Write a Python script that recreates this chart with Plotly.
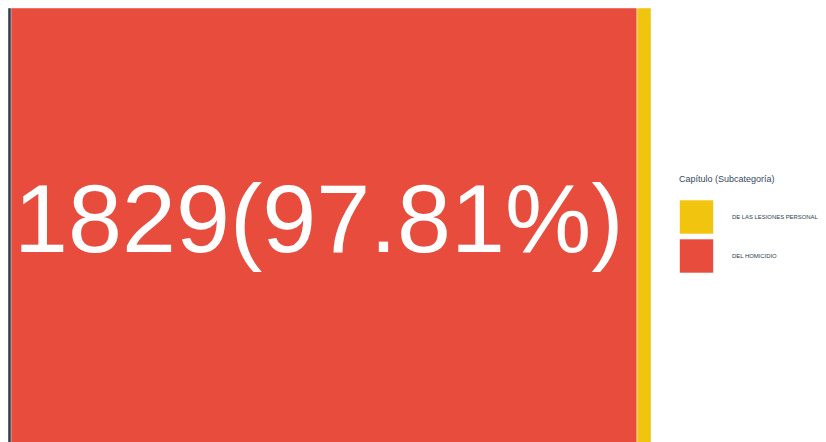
import plotly.graph_objects as go

# Data
root_label = "Total"
categories = ["DEL HOMICIDIO", "DE LAS LESIONES PERSONALES"]
values = [1829, 41]
colors = ["#e74c3c", "#f1c40f"]
legend_order = ["DE LAS LESIONES PERSONALES", "DEL HOMICIDIO"]
legend_title = "Capítulo (Subcategoría)"

total = sum(values)
labels = [root_label] + categories
parents = [""] + [root_label] * len(categories)
vals = [total] + values
texts = [""] + [
    f"{v}({v / total * 100:.2f}%)"
    "<sub><span style='font-size:125px'>\u200a</span></sub>"
    if v / total > 0.1 else ""
    for v in values
]

W, H = 826, 442

fig = go.Figure()
fig.add_trace(
    go.Treemap(
        labels=labels,
        parents=parents,
        values=vals,
        branchvalues="total",
        sort=True,
        text=texts,
        texttemplate="%{text}",
        textposition="middle center",
        textfont=dict(family="Liberation Sans, Arial, sans-serif", size=98, color="white"),
        marker=dict(
            colors=["#2c3e50"] + colors,
            line=dict(width=1, color="rgba(255,255,255,0.45)"),
            pad=dict(t=0, l=3, r=0, b=0),
        ),
        tiling=dict(packing="dice", pad=0),
        pathbar=dict(visible=False),
        hoverinfo="label+value+percent root",
        domain=dict(x=[0, 643 / W], y=[0, 1]),
    )
)

# Legend drawn as squares on auxiliary axes
color_map = dict(zip(categories, colors))
fig.add_trace(
    go.Scatter(
        x=[0] * len(legend_order),
        y=legend_order,
        mode="markers",
        marker=dict(
            symbol="square",
            size=34,
            color=[color_map[c] for c in legend_order],
            line=dict(width=1, color="rgba(255,255,255,0.6)"),
        ),
        xaxis="x2",
        yaxis="y2",
        hoverinfo="skip",
        showlegend=False,
    )
)

for c in legend_order:
    fig.add_annotation(
        x=722 / W,
        xref="paper",
        y=c,
        yref="y2",
        text=c,
        showarrow=False,
        xanchor="left",
        yanchor="middle",
        font=dict(family="Liberation Sans, Arial, sans-serif", size=5.9, color="#2c3e50"),
    )

fig.add_annotation(
    x=669 / W,
    xref="paper",
    y=1 - 171 / H,
    yref="paper",
    text=legend_title,
    showarrow=False,
    xanchor="left",
    yanchor="middle",
    font=dict(family="Liberation Sans, Arial, sans-serif", size=9, color="#34495e"),
)

y_center = 228.5
fig.update_layout(
    width=W,
    height=H,
    margin=dict(l=0, r=0, t=0, b=0),
    paper_bgcolor="white",
    plot_bgcolor="white",
    showlegend=False,
    xaxis2=dict(domain=[671 / W, 706 / W], range=[-1, 1], visible=False,
                fixedrange=True, anchor="y2"),
    yaxis2=dict(
        domain=[1 - (y_center + 39) / H, 1 - (y_center - 39) / H],
        range=[1.5, -0.5],
        type="category",
        visible=False,
        fixedrange=True,
        anchor="x2",
    ),
)

fig.write_html("out.html")
